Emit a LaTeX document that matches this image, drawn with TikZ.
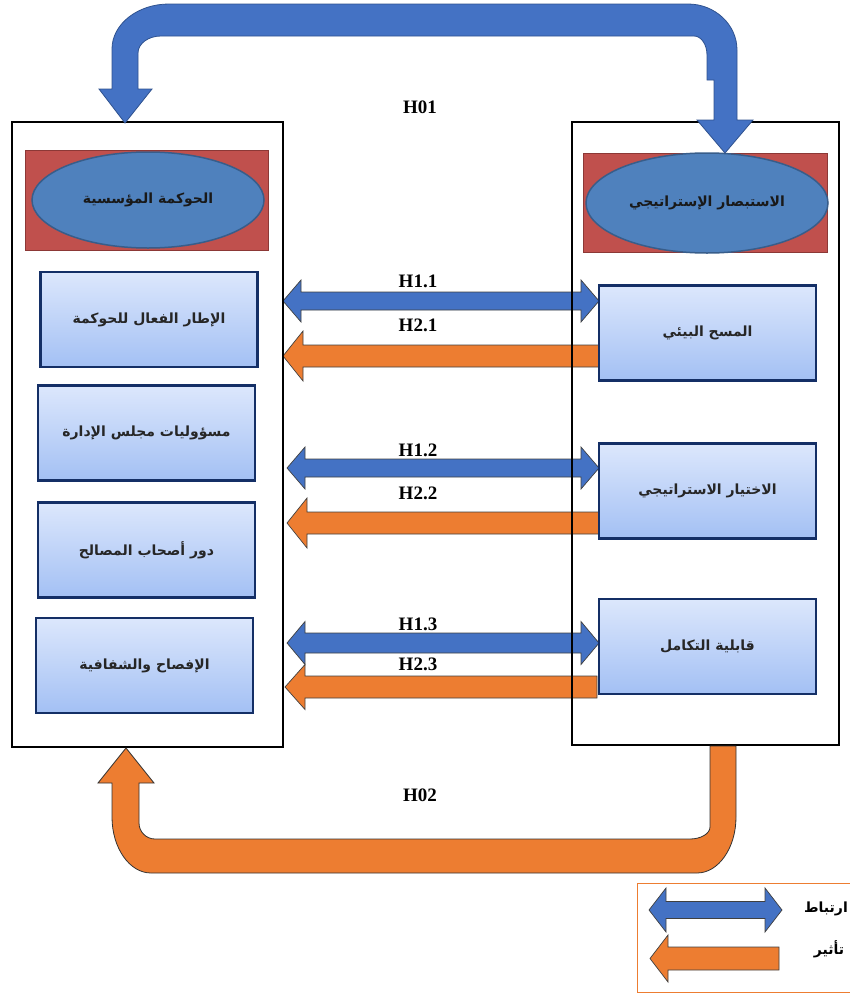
\documentclass[tikz,border=0pt]{standalone}
\usepackage{fontspec}
\setmainfont{Liberation Serif}
\newfontfamily\arabicfont[Script=Arabic]{DejaVu Sans}
\TeXXeTstate=1
\usetikzlibrary{shapes.geometric,calc,backgrounds}
\definecolor{hblue}{HTML}{4472C4}
\definecolor{hblueline}{HTML}{2F528F}
\definecolor{horange}{HTML}{ED7D31}
\definecolor{hred}{HTML}{C0504D}
\definecolor{hredline}{HTML}{8C3836}
\definecolor{hell}{HTML}{4F81BD}
\definecolor{hellline}{HTML}{385D8A}
\definecolor{boxtop}{HTML}{DCE7FC}
\definecolor{boxbot}{HTML}{A3C0F4}
\definecolor{boxline}{HTML}{142F66}
\newcommand\dblblock[6]{%
  \path[#1] let \p1=(#2), \p2=(#3) in (\x1,\y1) -- (\x1+#6pt,\y1+#5pt) -- (\x1+#6pt,\y1+#4pt) -- (\x2-#6pt,\y1+#4pt) -- (\x2-#6pt,\y1+#5pt) -- (\x2,\y1) -- (\x2-#6pt,\y1-#5pt) -- (\x2-#6pt,\y1-#4pt) -- (\x1+#6pt,\y1-#4pt) -- (\x1+#6pt,\y1-#5pt) -- cycle;}
\newcommand\leftblock[6]{%
  \path[#1] let \p1=(#2), \p2=(#3) in (\x1,\y1) -- (\x1+#6pt,\y1+#5pt) -- (\x1+#6pt,\y1+#4pt) -- (\x2,\y1+#4pt) -- (\x2,\y1-#4pt) -- (\x1+#6pt,\y1-#4pt) -- (\x1+#6pt,\y1-#5pt) -- cycle;}
\tikzset{
  bigbox/.style={draw=black, line width=2.6pt, anchor=north west, inner sep=0pt, outer sep=0pt},
  innerbox/.style={draw=boxline, line width=2.4pt, top color=boxtop, bottom color=boxbot,
    minimum width=217pt, minimum height=95pt, inner sep=0pt, outer sep=0pt,
    font=\arabicfont\bfseries\fontsize{14}{16}\selectfont, text=black!85},
  hdr/.style={fill=hred, draw=hredline, line width=0.8pt, anchor=north west, inner sep=0pt},
  ell/.style={ellipse, fill=hell, draw=hellline, line width=1.5pt, inner sep=0pt,
    font=\arabicfont\bfseries\fontsize{14}{16}\selectfont, text=black!90},
  hlabel/.style={font=\bfseries\fontsize{19}{20}\selectfont, inner sep=0pt},
  linkarrow/.style={fill=hblue, draw=black!75, line width=0.7pt},
  effarrow/.style={fill=horange, draw=black!75, line width=0.7pt},
  legtext/.style={font=\arabicfont\bfseries\fontsize{14}{16}\selectfont, inner sep=0pt}
}
\begin{document}
\begin{tikzpicture}[x=1pt,y=-1pt]
\useasboundingbox (0,0) rectangle (850,993);
% big boxes
\node[bigbox, minimum width=271pt, minimum height=625pt] (Lbox) at (12,122) {};
\node[bigbox, minimum width=267pt, minimum height=623pt] (Rbox) at (572,122) {};
% headers
\node[hdr, minimum width=243pt, minimum height=100pt] (Lhdr) at (25,150) {};
\node[ell, minimum width=232pt, minimum height=96pt] (Lell) at (148,200) {\beginR الحوكمة المؤسسية\endR};
\node[hdr, minimum width=244pt, minimum height=99pt] (Rhdr) at (583,153) {};
\node[ell, minimum width=242pt, minimum height=100pt] (Rell) at (707,203) {\beginR الاستبصار الإستراتيجي\endR};
% inner boxes left
\node[innerbox] (L1) at (149,319.5) {\beginR الإطار الفعال للحوكمة\endR};
\node[innerbox] (L2) at (146.5,433) {\beginR مسؤوليات مجلس الإدارة\endR};
\node[innerbox] (L3) at (146.5,550) {\beginR دور أصحاب المصالح\endR};
\node[innerbox] (L4) at (144.5,665.5) {\beginR الإفصاح والشفافية\endR};
% inner boxes right
\node[innerbox] (R1) at (707.5,333) {\beginR المسح البيئي\endR};
\node[innerbox] (R2) at (707.5,491) {\beginR الاختيار الاستراتيجي\endR};
\node[innerbox] (R3) at (707.5,646.5) {\beginR قابلية التكامل\endR};
% hypothesis arrows behind
\begin{pgfonlayer}{background}
\dblblock{linkarrow}{Lbox.east |- 0,301}{R1.west |- 0,301}{9}{21}{18}
\leftblock{effarrow}{Lbox.east |- 0,356}{R1.west |- 0,356}{11}{25}{20}
\dblblock{linkarrow}{287,468}{R2.west |- 0,468}{9}{21}{18}
\leftblock{effarrow}{287,523}{R2.west |- 0,523}{11}{25}{20}
\dblblock{linkarrow}{287,643}{R3.west |- 0,643}{10}{21.5}{18}
\leftblock{effarrow}{285,687}{597,687}{11}{22.5}{20}
\end{pgfonlayer}
% top arrow H01 (right -> left)
\path[fill=hblue, draw=hblueline, line width=0.8pt]
  (125,123) -- (152,89) -- (138,89) -- (138,53)
  .. controls (138,43.6) and (148.3,36) .. (161,36)
  -- (694,36)
  .. controls (701.2,36) and (707,44.5) .. (707,55)
  -- (707,80) -- (714,80) -- (714,120) -- (697,120) -- (725,153) -- (753,120) -- (737,120) -- (737,50)
  .. controls (737,24.6) and (715,4) .. (688,4)
  -- (169,4)
  .. controls (137.5,4) and (112,24.2) .. (112,49)
  -- (112,89) -- (99,89) -- cycle;
% bottom arrow H02
\path[fill=horange, draw=black!80, line width=0.8pt]
  (126,748) -- (154,783) -- (139,783) -- (139,823)
  .. controls (139,831.8) and (146.2,839) .. (155,839)
  -- (690,839)
  .. controls (701,839) and (710,833.6) .. (710,827)
  -- (710,746) -- (736,746) -- (736,817)
  .. controls (736,847.9) and (718.5,873) .. (697,873)
  -- (151,873)
  .. controls (129.5,873) and (112,847.9) .. (112,817)
  -- (112,783) -- (98,783) -- cycle;
% labels
\node[hlabel] (H01) at (420,107) {H01};
\node[hlabel] (H02) at (420,795) {H02};
\node[hlabel] (H11) at (418,281) {H1.1};
\node[hlabel] (H21) at (418,325) {H2.1};
\node[hlabel] (H12) at (418,450) {H1.2};
\node[hlabel] (H22) at (418,493) {H2.2};
\node[hlabel] (H13) at (418,624) {H1.3};
\node[hlabel] (H23) at (418,664) {H2.3};
% legend
\draw[horange, line width=1pt] (850,883) -- (637,883) -- (637,992) -- (850,992);
\coordinate (lg1a) at (649,910);
\coordinate (lg1b) at (782,910);
\coordinate (lg2a) at (650,958.5);
\coordinate (lg2b) at (779,958.5);
\dblblock{linkarrow}{lg1a}{lg1b}{8.5}{22}{17}
\leftblock{effarrow}{lg2a}{lg2b}{11.5}{23.5}{18}
\node[legtext] (legA) at (826,909) {\beginR ارتباط\endR};
\node[legtext] (legB) at (829,949) {\beginR تأثير\endR};
\end{tikzpicture}
\end{document}
